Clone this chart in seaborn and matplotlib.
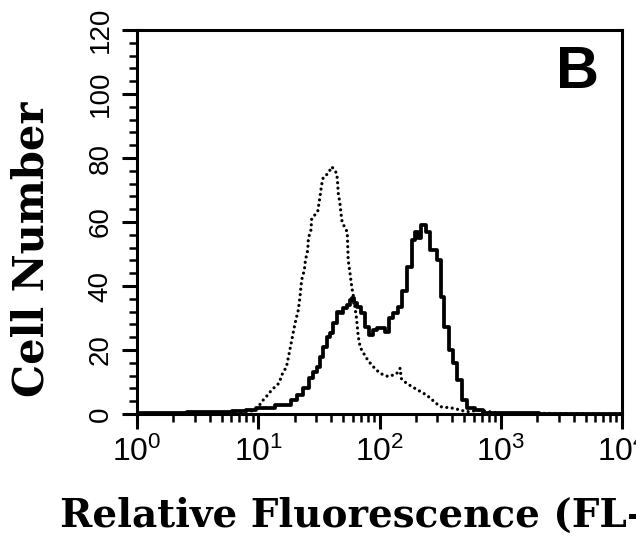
import numpy as np
import pandas as pd
import matplotlib
matplotlib.use("Agg")
import matplotlib.pyplot as plt
import seaborn as sns
from matplotlib.ticker import MultipleLocator, LogLocator, FixedLocator, FuncFormatter, NullFormatter

# ---- data ----
solid_fluor = [1.0, 2.0, 3.16, 5.0, 7.1, 8.9, 10.2, 12.6, 15.1, 17.8, 19.5, 21.9, 25.1, 27.5,
               29.5, 31.6, 33.1, 35.5, 38.0, 40.7, 42.7, 45.7, 49.0, 51.9, 55.0, 58.9, 60.8,
               63.1, 66.8, 73.5, 78.3, 85.1, 91.2, 100, 107, 115, 123, 135, 148, 158, 178,
               191, 204, 214, 229, 251, 275, 316, 331, 355, 389, 417, 457, 501, 562, 676,
               759, 1000, 3162, 10000]
solid_count = [0.3, 0.3, 0.6, 0.6, 0.8, 1.2, 1.8, 1.8, 2.8, 2.8, 4.4, 5.9, 8.0, 11.1,
               13.2, 14.8, 17.9, 21.0, 24.2, 25.2, 28.3, 32.0, 31.5, 33.0, 34.0, 35.5, 36.2,
               34.6, 33.5, 31.5, 27.3, 24.7, 26.2, 27.0, 26.8, 25.5, 29.9, 31.5, 33.5, 38.5, 46.0,
               54.4, 57.0, 55.0, 59.0, 57.0, 51.2, 48.1, 36.7, 27.3, 20.0, 15.8, 10.6, 4.4, 1.8, 1.2,
               0.3, 0.2, 0.0, 0.0]

dotted_fluor = [1.0, 6.3, 8.9, 9.8, 11.0, 12.0, 12.9, 14.8, 15.8, 17.1, 18.0, 18.9, 20.1, 21.4,
                22.1, 22.8, 24.0, 24.5, 25.6, 25.9, 27.2, 27.6, 30.9, 32.3, 33.3, 34.4, 37.8,
                40.4, 44.4, 45.2, 45.7, 47.2, 48.8, 51.9, 54.2, 54.6, 55.2, 57.1, 59.0, 60.8,
                64.6, 66.8, 69.2, 71.3, 78.3, 86.1, 101, 118, 138, 148, 151, 167, 196, 245,
                316, 407, 525, 676, 977, 1905, 10000]
dotted_count = [0.0, 0.3, 1.0, 1.8, 4.4, 6.0, 7.5, 9.6, 12.5, 14.8, 19.0, 23.1, 28.3, 32.5,
                36.7, 41.9, 45.0, 48.1, 51.2, 54.9, 57.5, 61.1, 63.2, 67.9, 71.6, 74.0, 75.2,
                77.3, 75.2, 72.0, 69.0, 65.8, 60.6, 58.0, 57.0, 53.3, 48.1, 44.0, 39.8, 37.0,
                30.0, 24.2, 21.0, 20.0, 17.4, 15.3, 12.7, 11.7, 12.5, 14.3, 11.1, 9.6, 8.0, 5.9,
                2.3, 1.8, 0.7, 1.2, 0.2, 0.2, 0.0]

y_ticks = [0, 20, 40, 60, 80, 100, 120]
x_ticks = [1, 10, 100, 1000, 10000]
panel_letter = "B"
x_label = "Relative Fluorescence (FL-1)"
y_label = "Cell Number"

solid_df = pd.DataFrame({"fluor": solid_fluor, "count": solid_count})
dotted_df = pd.DataFrame({"fluor": dotted_fluor, "count": dotted_count})

# ---- styling ----
sns.set_theme(style="ticks")
plt.rcParams["font.family"] = ["Liberation Sans", "DejaVu Sans"]
plt.rcParams["mathtext.fontset"] = "custom"
plt.rcParams["mathtext.rm"] = "Liberation Sans"
plt.rcParams["mathtext.default"] = "rm"
plt.rcParams["text.color"] = "black"
plt.rcParams["axes.labelcolor"] = "black"
plt.rcParams["xtick.color"] = "black"
plt.rcParams["ytick.color"] = "black"

fig = plt.figure(figsize=(6.36, 5.46), dpi=100)
ax = fig.add_axes([137 / 636, 1 - 414 / 546, 485 / 636, 384 / 546])

sns.lineplot(data=dotted_df, x="fluor", y="count", ax=ax, color="black",
             estimator=None, sort=False, linewidth=2.3,
             linestyle=(0, (0.01, 1.7)), dash_capstyle="round")
sns.lineplot(data=solid_df, x="fluor", y="count", ax=ax, color="black",
             estimator=None, sort=False, linewidth=2.7, drawstyle="steps-mid")

ax.set_xscale("log")
ax.set_xlim(1, 1e4)
ax.set_ylim(0, 120)

ax.xaxis.set_major_locator(FixedLocator(x_ticks))
ax.xaxis.set_major_formatter(FuncFormatter(lambda v, p: r"$10^{%d}$" % int(round(np.log10(v)))))
ax.xaxis.set_minor_locator(LogLocator(base=10, subs=range(2, 10)))
ax.xaxis.set_minor_formatter(NullFormatter())
ax.yaxis.set_major_locator(FixedLocator(y_ticks))
ax.yaxis.set_minor_locator(MultipleLocator(4))

ax.tick_params(which="major", direction="out", length=11, width=2.2, color="black",
               labelcolor="black")
ax.tick_params(which="minor", direction="out", length=6, width=1.8, color="black")
ax.tick_params(axis="y", which="major", pad=6, labelsize=20)
ax.tick_params(axis="x", which="major", pad=5, labelsize=23)
for lab in ax.get_yticklabels():
    lab.set_rotation(90)
    lab.set_va("center")

for s in ax.spines.values():
    s.set_linewidth(2.2)
    s.set_color("black")
    s.set_visible(True)

ax.set_ylabel(y_label, fontfamily="DejaVu Serif", fontweight="bold", fontsize=30, color="black")
ax.yaxis.set_label_coords(-0.175, 0.43)
ax.set_xlabel(x_label, fontfamily="DejaVu Serif", fontweight="bold", fontsize=28, color="black")
ax.xaxis.set_label_coords(0.489, -0.215)

ax.text(0.952, 0.849, panel_letter, transform=ax.transAxes, ha="right", va="baseline",
        fontfamily="Liberation Sans", fontweight="bold", fontsize=43, color="black")

ax.set_facecolor("white")
fig.patch.set_facecolor("white")
fig.savefig("out.png", dpi=100)
